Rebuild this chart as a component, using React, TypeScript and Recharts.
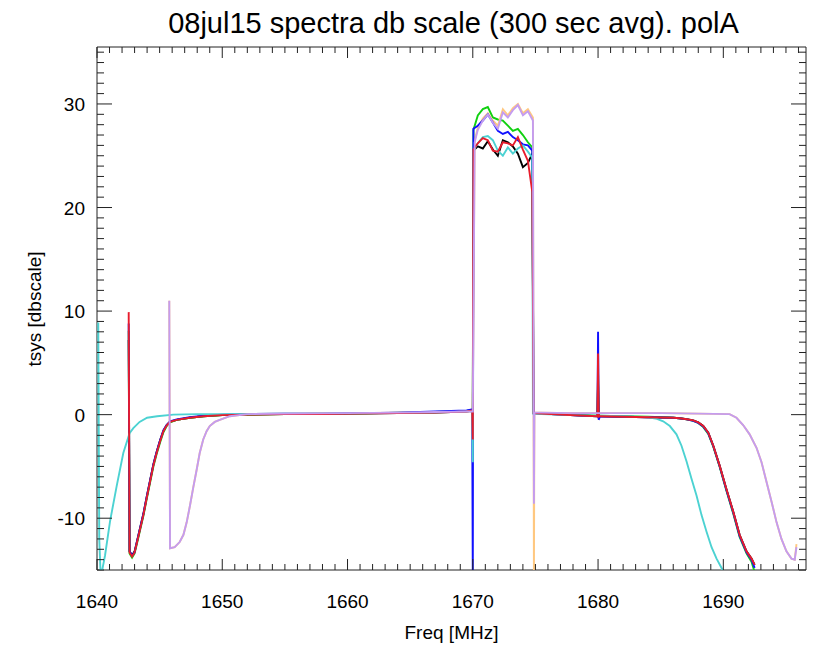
import React from 'react';
import { LineChart, Line, XAxis, YAxis, ReferenceArea } from 'recharts';

const FONT = '"Liberation Sans", Arial, Helvetica, sans-serif';

// ---------- axes ----------
const xMajorTicks = [1640, 1650, 1660, 1670, 1680, 1690];
const yMajorTicks = [-10, 0, 10, 20, 30];
const xDomain: [number, number] = [1640, 1696.6];
const yDomain: [number, number] = [-15, 35.5];

// ---------- main bandpass (black, red, green, blue) ----------
const mainFreq = [
  1642.53, 1642.6, 1642.8, 1643.0, 1643.2, 1643.45, 1643.7, 1643.96, 1644.23, 1644.5,
  1644.76, 1645.03, 1645.3, 1645.56, 1645.83, 1646.36, 1647.4, 1648.5, 1650.0, 1652.0,
  1655.0, 1658.0, 1661.0, 1664.0, 1667.0, 1669.5, 1669.95, 1670.0, 1670.05, 1670.4,
  1670.8, 1671.2, 1671.6, 1672.0, 1672.4, 1672.8, 1673.2, 1673.6, 1674.0, 1674.4,
  1674.75, 1674.85, 1675.5, 1677.0, 1679.0, 1679.95, 1680.0, 1680.05, 1680.15, 1682.0,
  1684.0, 1686.0, 1686.5, 1687.1, 1687.6, 1688.0, 1688.4, 1688.8, 1689.2, 1689.7,
  1690.25, 1690.8, 1691.3, 1691.85, 1692.25, 1692.5,
];
const blackValues = [
  7.2, -13.2, -13.6, -13.2, -12.2, -10.9, -9.6, -8.0, -6.4, -4.8,
  -3.6, -2.5, -1.6, -1.0, -0.7, -0.5, -0.3, -0.15, -0.05, 0.0,
  0.05, 0.05, 0.1, 0.15, 0.2, 0.3, 0.4, 0.4, 25.5, 25.9,
  25.7, 26.4, 25.6, 25.0, 26.5, 26.3, 25.9, 25.2, 23.9, 24.3,
  25.2, 0.15, 0.1, 0.0, -0.1, -0.15, 3.0, -0.2, -0.15, -0.2,
  -0.25, -0.3, -0.35, -0.45, -0.55, -0.75, -1.1, -1.75, -3.0, -4.9,
  -7.2, -9.4, -11.6, -13.2, -13.9, -14.5,
];
const redValues = [
  9.9, -13.3, -13.7, -13.3, -12.3, -11.0, -9.7, -8.1, -6.5, -4.9,
  -3.7, -2.6, -1.6, -1.05, -0.7, -0.5, -0.3, -0.15, -0.05, 0.0,
  0.05, 0.05, 0.1, 0.15, 0.2, 0.3, 0.4, -2.4, 25.6, 26.2,
  26.7, 26.5, 25.5, 25.4, 26.3, 26.2, 26.0, 26.8, 25.6, 24.5,
  21.5, 0.15, 0.1, 0.0, -0.1, -0.15, 5.9, -0.2, -0.15, -0.2,
  -0.25, -0.3, -0.35, -0.45, -0.55, -0.75, -1.1, -1.75, -3.0, -4.9,
  -7.2, -9.4, -11.6, -13.2, -13.9, -14.5,
];
const greenValues = [
  8.1, -13.4, -13.8, -13.4, -12.4, -11.1, -9.8, -8.2, -6.6, -5.0,
  -3.8, -2.7, -1.7, -1.1, -0.75, -0.5, -0.3, -0.15, -0.05, 0.0,
  0.05, 0.1, 0.1, 0.2, 0.25, 0.35, 0.45, 0.45, 27.5, 28.9,
  29.5, 29.7, 28.7, 28.5, 28.4, 27.9, 27.4, 27.6, 27.0, 26.3,
  25.8, 0.2, 0.15, 0.05, -0.05, -0.1, 4.0, -0.15, -0.1, -0.15,
  -0.2, -0.3, -0.35, -0.45, -0.6, -0.8, -1.2, -1.85, -3.1, -5.0,
  -7.35, -9.6, -11.8, -13.4, -14.2, -15.2,
];
const blueValues = [
  8.8, -13.2, -13.6, -13.3, -12.2, -10.9, -9.6, -8.0, -6.4, -4.8,
  -3.6, -2.5, -1.5, -1.0, -0.65, -0.45, -0.25, -0.1, 0.0, 0.05,
  0.1, 0.1, 0.15, 0.2, 0.3, 0.4, 0.5, -16, 27.6, 27.9,
  28.4, 29.0, 28.2, 27.4, 27.1, 27.3, 26.8, 26.5, 26.1, 26.0,
  25.5, 0.15, 0.1, 0.0, -0.1, -0.15, 8.0, -0.5, -0.15, -0.2,
  -0.25, -0.3, -0.35, -0.45, -0.6, -0.8, -1.15, -1.8, -3.05, -4.95,
  -7.3, -9.5, -11.7, -13.3, -14.0, -14.8,
];

// ---------- cyan ----------
const cyanFreq = [
  1640.1, 1640.18, 1640.3, 1640.45, 1640.64, 1641.04, 1641.57, 1642.1, 1642.6, 1642.9,
  1643.4, 1644.0, 1644.8, 1646.1, 1648.0, 1650.0, 1655.0, 1660.0, 1664.0, 1667.0,
  1669.5, 1669.95, 1670.0, 1670.05, 1670.4, 1670.8, 1671.2, 1671.6, 1672.0, 1672.4,
  1672.8, 1673.2, 1673.6, 1674.0, 1674.4, 1674.75, 1674.8, 1675.5, 1678.0, 1680.0,
  1682.0, 1684.0, 1684.7, 1685.2, 1685.73, 1686.26, 1686.66, 1687.06, 1687.46, 1687.86,
  1688.26, 1688.66, 1689.06, 1689.46, 1689.86, 1690.1,
];
const cyanValues = [
  8.9, -12.0, -15.8, -14.8, -13.6, -10.3, -6.9, -3.7, -1.8, -1.3,
  -0.7, -0.3, -0.15, 0.0, 0.05, 0.05, 0.1, 0.1, 0.15, 0.2,
  0.3, 0.35, -4.6, 25.5, 26.2, 26.8, 26.9, 26.5, 25.5, 25.0,
  25.8, 25.2, 25.7, 26.0, 25.4, 24.8, 0.1, 0.05, -0.05, -0.1,
  -0.15, -0.25, -0.4, -0.64, -1.1, -1.9, -3.0, -4.5, -6.2, -7.8,
  -9.7, -11.3, -12.8, -13.9, -14.8, -15.5,
];

// ---------- purple / orange ----------
const purpleFreq = [
  1645.77, 1645.83, 1646.2, 1646.6, 1646.9, 1647.16, 1647.42, 1647.69, 1647.96, 1648.2,
  1648.48, 1648.75, 1649.0, 1649.4, 1649.8, 1650.6, 1652.0, 1655.0, 1660.0, 1664.0,
  1667.0, 1669.5, 1670.0, 1670.15, 1670.4, 1670.8, 1671.2, 1671.6, 1672.0, 1672.4,
  1672.8, 1673.2, 1673.6, 1674.0, 1674.4, 1674.8, 1674.88, 1674.92, 1675.5, 1678.0,
  1680.0, 1682.0, 1685.0, 1688.0, 1690.5, 1691.05, 1691.58, 1692.1, 1692.65, 1693.05,
  1693.45, 1693.85, 1694.25, 1694.64, 1695.04, 1695.44, 1695.7, 1695.84,
];
const purpleValues = [
  11.0, -12.9, -12.8, -12.3, -11.6, -10.4, -8.8, -7.0, -5.3, -3.7,
  -2.4, -1.6, -1.1, -0.7, -0.5, -0.15, 0.05, 0.1, 0.15, 0.2,
  0.25, 0.3, 0.3, 26.3, 27.5, 28.4, 29.0, 28.2, 27.6, 29.2,
  28.7, 29.4, 29.9, 28.9, 29.3, 28.4, -8.6, 0.2, 0.2, 0.15,
  0.15, 0.15, 0.15, 0.1, 0.05, -0.3, -1.0, -1.9, -3.2, -4.6,
  -6.5, -8.4, -10.4, -12.0, -13.2, -13.9, -14.0, -12.8,
];
const orangeValues = [
  11.0, -12.9, -12.8, -12.3, -11.6, -10.4, -8.8, -7.0, -5.3, -3.7,
  -2.4, -1.6, -1.1, -0.7, -0.5, -0.15, 0.05, 0.1, 0.15, 0.2,
  0.25, 0.3, 0.3, 26.5, 27.7, 28.6, 29.1, 28.4, 27.9, 29.5,
  28.9, 29.6, 30.0, 29.1, 29.5, 28.7, -16, 0.2, 0.2, 0.15,
  0.15, 0.15, 0.15, 0.1, 0.05, -0.3, -1.0, -1.9, -3.2, -4.6,
  -6.5, -8.4, -10.4, -12.0, -13.2, -13.9, -14.0, -12.5,
];

const pts = (fs: number[], vs: number[]) => {
  if (fs.length !== vs.length) throw new Error(`length mismatch ${fs.length} vs ${vs.length}`);
  return fs.map((f, i) => ({ f, v: vs[i] }));
};

const series = [
  { name: 'black', color: '#000000', data: pts(mainFreq, blackValues) },
  { name: 'green', color: '#10d010', data: pts(mainFreq, greenValues) },
  { name: 'orange', color: '#ffc880', data: pts(purpleFreq, orangeValues) },
  { name: 'blue', color: '#1010ff', data: pts(mainFreq, blueValues) },
  { name: 'cyan', color: '#4cd2d2', data: pts(cyanFreq, cyanValues) },
  { name: 'red', color: '#e81c2c', data: pts(mainFreq, redValues) },
  { name: 'purple', color: '#c49cf0', data: pts(purpleFreq, purpleValues) },
];

// ---------- layout ----------
const W = 809;
const H = 641;
const MARGIN = { top: 39, right: 11, bottom: 39, left: 9 };
const YAXIS_W = 80;
const XAXIS_H = 40;
const PLOT_LEFT = MARGIN.left + YAXIS_W;
const PLOT_RIGHT = W - MARGIN.right;
const PLOT_TOP = MARGIN.top;
const PLOT_BOTTOM = H - MARGIN.bottom - XAXIS_H;

const xTicks: number[] = [];
for (let t = 1640; t <= 1696; t += 1) xTicks.push(t);
const yTicks: number[] = [];
for (let t = -15; t <= 35; t += 1) yTicks.push(t);

const AX = '#222';

const XTick = (props: any) => {
  const { x, payload } = props;
  const v = payload.value;
  const major = xMajorTicks.includes(v);
  const len = major ? 11 : 6;
  return (
    <g>
      <line x1={x} x2={x} y1={PLOT_BOTTOM} y2={PLOT_BOTTOM - len} stroke={AX} strokeWidth={1} />
      <line x1={x} x2={x} y1={PLOT_TOP} y2={PLOT_TOP + len} stroke={AX} strokeWidth={1} />
      {major && (
        <text x={x} y={PLOT_BOTTOM + 38} textAnchor="middle" fontSize={19} fontFamily={FONT} fill="#000">
          {v}
        </text>
      )}
    </g>
  );
};

const YTick = (props: any) => {
  const { y, payload } = props;
  const v = payload.value;
  const major = yMajorTicks.includes(v);
  const len = major ? 15 : 7;
  return (
    <g>
      <line x1={PLOT_LEFT} x2={PLOT_LEFT + len} y1={y} y2={y} stroke={AX} strokeWidth={1} />
      <line x1={PLOT_RIGHT} x2={PLOT_RIGHT - len} y1={y} y2={y} stroke={AX} strokeWidth={1} />
      {major && (
        <text x={PLOT_LEFT - 12} y={y + 7} textAnchor="end" fontSize={19} fontFamily={FONT} fill="#000">
          {v}
        </text>
      )}
    </g>
  );
};

export default function App() {
  return (
    <div style={{ position: 'relative', width: W, height: H, background: '#fff' }}>
      <div
        style={{
          position: 'absolute',
          left: 0,
          width: W,
          top: 0,
          textAlign: 'center',
          fontFamily: FONT,
          fontSize: 29,
          lineHeight: '30px',
          color: '#000',
          paddingLeft: 82,
          boxSizing: 'border-box',
        }}
      >
        08jul15 spectra db scale (300 sec avg). polA
      </div>
      <LineChart width={W} height={H} margin={MARGIN}>
        <XAxis
          dataKey="f"
          type="number"
          domain={xDomain}
          allowDataOverflow
          ticks={xTicks}
          interval={0}
          tick={(p: any) => <XTick {...p} />}
          tickLine={false}
          axisLine={false}
          height={XAXIS_H}
        />
        <YAxis
          dataKey="v"
          type="number"
          domain={yDomain}
          allowDataOverflow
          ticks={yTicks}
          interval={0}
          tick={(p: any) => <YTick {...p} />}
          tickLine={false}
          axisLine={false}
          width={YAXIS_W}
        />
        <ReferenceArea x1={xDomain[0]} x2={xDomain[1]} y1={yDomain[0]} y2={yDomain[1]} fill="none" stroke={AX} strokeWidth={1} />
        {series.map((s) => (
          <Line
            key={s.name}
            data={s.data}
            dataKey="v"
            type="linear"
            stroke={s.color}
            strokeWidth={1.9}
            dot={false}
            activeDot={false}
            isAnimationActive={false}
          />
        ))}
      </LineChart>
      <div
        style={{
          position: 'absolute',
          left: PLOT_LEFT,
          width: PLOT_RIGHT - PLOT_LEFT,
          top: 614,
          textAlign: 'center',
          fontFamily: FONT,
          fontSize: 19,
          color: '#000',
        }}
      >
        Freq [MHz]
      </div>
      <div
        style={{
          position: 'absolute',
          left: 27,
          top: (PLOT_TOP + PLOT_BOTTOM) / 2,
          transform: 'translate(-50%, -50%) rotate(-90deg)',
          whiteSpace: 'nowrap',
          fontFamily: FONT,
          fontSize: 19,
          color: '#000',
        }}
      >
        tsys [dbscale]
      </div>
    </div>
  );
}
